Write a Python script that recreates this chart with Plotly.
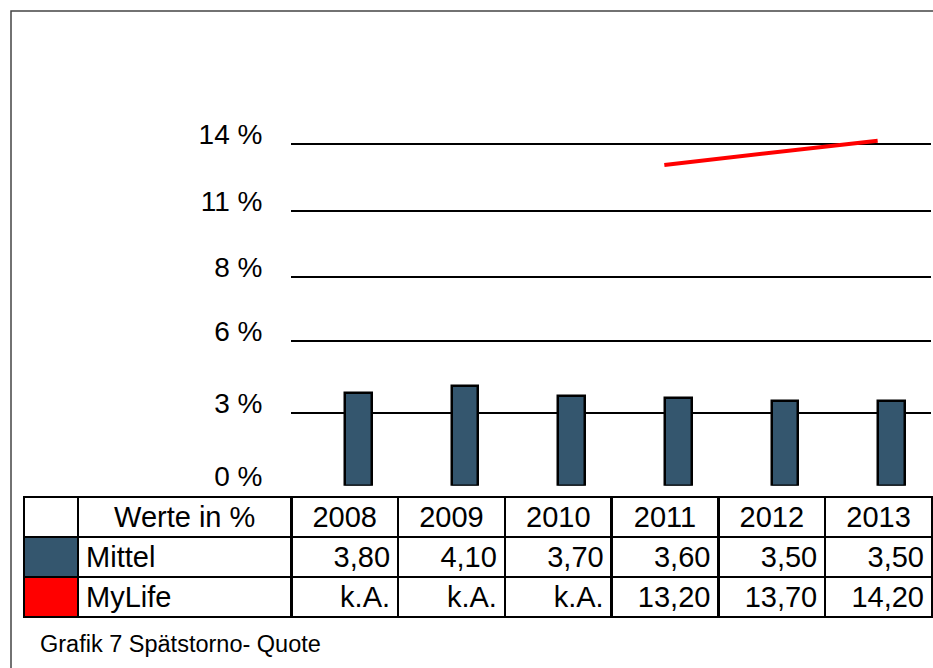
import plotly.graph_objects as go

# ---- data ----
years = ["2008", "2009", "2010", "2011", "2012", "2013"]
mittel = [3.80, 4.10, 3.70, 3.60, 3.50, 3.50]
mylife = [None, None, None, 13.20, 13.70, 14.20]
series_names = ["Mittel", "MyLife"]
series_colors = ["#34566E", "#FF0000"]
tick_vals = [0, 3.0, 5.95, 8.6, 11.3, 14.05]
tick_text = ["0 %", "3 %", "6 %", "8 %", "11 %", "14 %"]
header_label = "Werte in %"
caption = "Grafik 7 Spätstorno- Quote"

W, H = 933, 668
FONT = "Liberation Sans, Arial, sans-serif"


def fmt(v):
    return "k.A." if v is None else f"{v:.2f}".replace(".", ",")


def px_x(p):
    return p / W


def px_y(p):
    return (H - p) / H


xs = list(range(len(years)))

fig = go.Figure()

fig.add_trace(go.Bar(
    x=xs, y=mittel, name=series_names[0],
    marker=dict(color=series_colors[0], line=dict(color="black", width=2.5)),
    width=0.25, offset=0.005,
    xaxis="x", yaxis="y", showlegend=False,
))

fig.add_trace(go.Scatter(
    x=xs, y=mylife, name=series_names[1], mode="lines",
    line=dict(color=series_colors[1], width=4),
    connectgaps=False, xaxis="x", yaxis="y", showlegend=False,
))

# data table under the chart
col_vals = [["", ""], series_names] + [[fmt(m), fmt(l)] for m, l in zip(mittel, mylife)]
fill_cols = [series_colors] + [["white", "white"]] * (len(years) + 1)

fig.add_trace(go.Table(
    domain=dict(x=[px_x(24), px_x(932)], y=[px_y(640), px_y(497)]),
    columnwidth=[54, 213] + [106.67] * len(years),
    header=dict(
        values=["", header_label] + years,
        fill=dict(color="white"),
        line=dict(color="black", width=2.5),
        align="center",
        font=dict(family=FONT, size=29, color="black"),
        height=40,
    ),
    cells=dict(
        values=col_vals,
        fill=dict(color=fill_cols),
        line=dict(color="black", width=2.5),
        align=["center", "left"] + ["right"] * len(years),
        font=dict(family=FONT, size=29, color="black"),
        height=40,
    ),
))

zero_px = 485.7
top_px = 100

fig.update_layout(
    width=W, height=H,
    margin=dict(l=0, r=0, t=0, b=0, autoexpand=False),
    paper_bgcolor="white", plot_bgcolor="white",
    font=dict(family=FONT, color="black"),
    xaxis=dict(
        domain=[px_x(291), px_x(931)],
        range=[-0.5, len(years) - 0.5],
        showgrid=False, zeroline=False, showticklabels=False, showline=False,
        ticks="", fixedrange=True,
    ),
    yaxis=dict(
        domain=[px_y(zero_px), px_y(top_px)],
        range=[0, (zero_px - top_px) / 24.3],
        tickvals=tick_vals, ticktext=tick_text,
        showgrid=True, gridcolor="black", gridwidth=2,
        zeroline=False, showline=False,
        ticks="outside", ticklen=22, tickcolor="rgba(0,0,0,0)",
        ticklabelshift=-10,
        tickfont=dict(family=FONT, size=28, color="black"),
        fixedrange=True,
    ),
    bargap=0,
    shapes=[dict(
        type="rect", xref="paper", yref="paper",
        x0=px_x(11), x1=1.2, y0=-0.2, y1=px_y(11),
        line=dict(color="#444444", width=1.5), fillcolor="rgba(0,0,0,0)",
        layer="below",
    )],
    annotations=[dict(
        text=caption, xref="paper", yref="paper",
        x=px_x(38), y=px_y(644), xanchor="left", yanchor="middle",
        showarrow=False, font=dict(family=FONT, size=23.5, color="black"),
    )],
)

fig.write_html("out.html")
